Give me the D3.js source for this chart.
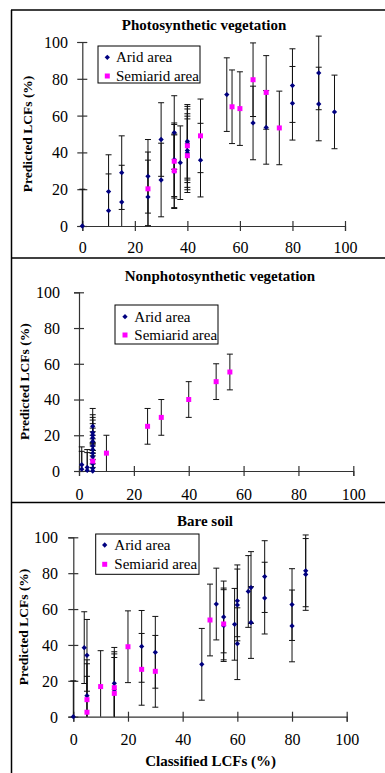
<!DOCTYPE html>
<html>
<head>
<meta charset="utf-8">
<script src="https://cdn.jsdelivr.net/npm/d3@7.9.0/dist/d3.min.js"></script>
<style>
  html, body { margin: 0; padding: 0; background: #fff; }
  svg { display: block; }
  svg text { font-family: "Times New Roman", Times, "Liberation Serif", "DejaVu Serif", serif !important; }
</style>
</head>
<body>
<svg id="chart" width="385" height="773"></svg>
<script>
// ---------- DATA ----------
const xTicks = [0, 20, 40, 60, 80, 100];
const yTicks = [0, 20, 40, 60, 80, 100];
const seriesNames = ["Arid area", "Semiarid area"];
const panelTitles = ["Photosynthetic vegetation", "Nonphotosynthetic vegetation", "Bare soil"];
const xTitle = "Classified LCFs (%)";
const yTitle = "Predicted LCFs (%)";

// [classified, predicted]
const pvArid = [[0, 0], [10, 18.7], [10, 8.3], [15, 29], [15, 13], [25, 27], [25, 15.8],
  [30, 47], [30, 25], [35, 50.8], [35, 36], [35, 29.5], [37.3, 34.4], [40, 46], [40, 45],
  [40, 41], [40, 39.7], [45, 35.8], [55, 71.4], [65, 56], [70, 53.6], [80, 76.3], [80, 66.7],
  [90, 83.2], [90, 66.3], [96, 62]];
const pvSemi = [[25, 20.2], [35, 35.2], [35, 30], [40, 43.6], [40, 38.2], [45, 49],
  [57, 64.8], [60, 63.8], [65, 79.5], [70, 72.6], [75, 53.3]];

const npvArid = [[1, 3.5], [1, 1], [3, 2], [3, 0.3], [5, 25], [5, 21.5], [5, 20], [5, 18.5],
  [5, 16.5], [5, 14], [5, 12], [5, 10], [5, 8], [5, 6], [5, 4], [5, 1.5], [5, 0]];
const npvSemi = [[5, 5.5], [10, 10], [25, 25], [30, 30], [40, 40], [50, 50], [55, 55.4]];

const bsArid = [[0, 0], [4, 38.5], [5, 34.2], [5, 11.7], [15, 18.6], [15, 15], [25, 39.2],
  [30, 35.9], [47, 29.2], [52.3, 62.8], [55, 55.6], [55, 50.8], [59, 51.5], [60, 64.6],
  [60, 62.3], [60, 40.7], [64, 69.8], [65, 72], [65, 52.5], [70, 78.1], [70, 66.1],
  [80, 62.5], [80, 50.6], [85, 81.3], [85, 79.3]];
const bsSemi = [[5, 9.5], [5, 2.5], [10, 16.8], [15, 16.2], [15, 13], [20, 39], [25, 26.4],
  [30, 25.3], [50, 53.9], [55, 51.7]];

// error bar half-widths (percentage points)
const panelErrors = [20, 10, 20];

// ---------- LAYOUT ----------
const panels = [
  { arid: pvArid, semi: pvSemi, x: [82.3, 345], y: [226, 42], titleY: 30, yTitleX: 31.7,
    tickY: 253, yLabelRight: 68, legend: { x: 98, y: 46, w: 102, h: 37, mx: 107.3, tx: 116, r1: 57.3, r2: 76 } },
  { arid: npvArid, semi: npvSemi, x: [79, 353.3], y: [471, 292.3], titleY: 281, yTitleX: 28.7,
    tickY: 499.5, yLabelRight: 60, legend: { x: 115, y: 305, w: 103, h: 39, mx: 125, tx: 134.3, r1: 316.7, r2: 335 } },
  { arid: bsArid, semi: bsSemi, x: [73.3, 346.7], y: [716.7, 537.3], titleY: 526, yTitleX: 27.7,
    tickY: 745, yLabelRight: 58, legend: { x: 95.7, y: 534, w: 103.3, h: 40.3, mx: 104.7, tx: 114.3, r1: 545, r2: 564.3 } }
];
const titleX = [204, 220, 205];

const aridColor = "#000080";
const semiColor = "#ff00ff";
const axisColor = "#333";
const serif = "Times New Roman";

const svg = d3.select("#chart").attr("font-family", serif);

// panel frames
svg.append("line").attr("x1", 11.5).attr("x2", 11.5).attr("y1", 10).attr("y2", 773)
  .attr("stroke", "#000").attr("stroke-width", 1.5);
[10, 258, 502.5].forEach(y => {
  svg.append("line").attr("x1", 11).attr("x2", 385).attr("y1", y).attr("y2", y)
    .attr("stroke", "#000").attr("stroke-width", 1.5);
});

const aridSymbol = d3.symbol().type(d3.symbolSquare).size(14);
const semiSymbol = d3.symbol().type(d3.symbolSquare).size(25);

panels.forEach((p, i) => {
  const x = d3.scaleLinear().domain([0, 100]).range(p.x);
  const y = d3.scaleLinear().domain([0, 100]).range(p.y);
  const err = panelErrors[i];
  const g = svg.append("g");

  // x axis with crossing ticks
  const xa = g.append("g")
    .attr("transform", `translate(0,${p.y[0]})`)
    .call(d3.axisBottom(x).tickValues(xTicks).tickSize(5).tickFormat(d3.format("d")));
  xa.attr("font-family", serif);
  xa.select(".domain").attr("stroke", axisColor).attr("stroke-width", 1.2);
  xa.selectAll(".tick line").attr("y1", -5).attr("y2", 5).attr("stroke", axisColor).attr("stroke-width", 1.2);
  xa.selectAll(".tick text")
    .attr("y", p.tickY - p.y[0]).attr("dy", null)
    .attr("font-size", 16).attr("fill", "#000");

  // y axis with crossing ticks
  const ya = g.append("g")
    .attr("transform", `translate(${p.x[0]},0)`)
    .call(d3.axisLeft(y).tickValues(yTicks).tickSize(5).tickFormat(d3.format("d")));
  ya.attr("font-family", serif);
  ya.select(".domain").attr("stroke", axisColor).attr("stroke-width", 1.2);
  ya.selectAll(".tick line").attr("x1", -5).attr("x2", 5).attr("stroke", axisColor).attr("stroke-width", 1.2);
  ya.selectAll(".tick text")
    .attr("x", p.yLabelRight - p.x[0]).attr("dy", "0.34em")
    .attr("font-size", 16).attr("fill", "#000");

  // titles
  g.append("text").attr("x", titleX[i]).attr("y", p.titleY)
    .attr("text-anchor", "middle").attr("font-weight", "bold").attr("font-size", 15)
    .text(panelTitles[i]);
  g.append("text")
    .attr("transform", `translate(${p.yTitleX},${(p.y[0] + p.y[1]) / 2}) rotate(-90)`)
    .attr("text-anchor", "middle").attr("font-weight", "bold").attr("font-size", 13.5)
    .text(yTitle);

  // error bars
  const all = p.arid.concat(p.semi);
  const bars = g.append("g").attr("stroke", "#111").attr("stroke-width", 1);
  all.forEach(d => {
    const lo = Math.max(0, d[1] - err), hi = d[1] + err;
    const cx = x(d[0]);
    bars.append("line").attr("x1", cx).attr("x2", cx).attr("y1", y(lo)).attr("y2", y(hi));
    bars.append("line").attr("x1", cx - 3).attr("x2", cx + 3).attr("y1", y(hi)).attr("y2", y(hi));
    if (lo > 0) bars.append("line").attr("x1", cx - 3).attr("x2", cx + 3).attr("y1", y(lo)).attr("y2", y(lo));
  });

  // points
  g.append("g").selectAll("path").data(p.arid).join("path")
    .attr("d", aridSymbol)
    .attr("transform", d => `translate(${x(d[0])},${y(d[1])}) rotate(45)`)
    .attr("fill", aridColor);
  g.append("g").selectAll("path").data(p.semi).join("path")
    .attr("d", semiSymbol)
    .attr("transform", d => `translate(${x(d[0])},${y(d[1])})`)
    .attr("fill", semiColor);

  // legend
  const L = p.legend;
  const lg = g.append("g");
  lg.append("rect").attr("x", L.x).attr("y", L.y).attr("width", L.w).attr("height", L.h)
    .attr("fill", "#fff").attr("stroke", "#000").attr("stroke-width", 1);
  lg.append("path").attr("d", aridSymbol)
    .attr("transform", `translate(${L.mx},${L.r1}) rotate(45)`).attr("fill", aridColor);
  lg.append("path").attr("d", semiSymbol)
    .attr("transform", `translate(${L.mx},${L.r2})`).attr("fill", semiColor);
  lg.append("text").attr("x", L.tx).attr("y", L.r1 + 5).attr("font-size", 15).text(seriesNames[0]);
  lg.append("text").attr("x", L.tx).attr("y", L.r2 + 5).attr("font-size", 15).text(seriesNames[1]);
});

svg.append("text").attr("x", 210.7).attr("y", 766)
  .attr("text-anchor", "middle").attr("font-weight", "bold").attr("font-size", 15)
  .text(xTitle);
</script>
</body>
</html>
